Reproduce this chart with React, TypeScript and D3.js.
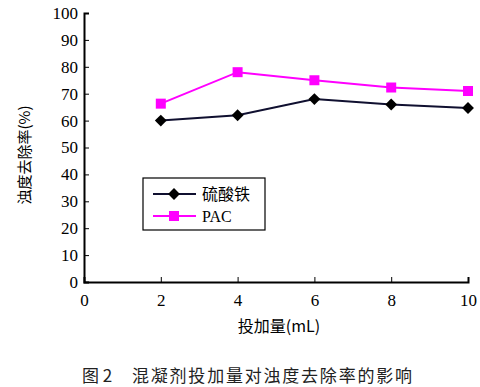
import { useEffect, useRef } from 'react';
import * as d3 from 'd3';

const doses = [2, 4, 6, 8, 10];
const ferric = [60, 62, 68, 66, 64.7];
const pac = [66.3, 78, 75, 72.3, 71];
const xTicks = [0, 2, 4, 6, 8, 10];
const yTicks = [0, 10, 20, 30, 40, 50, 60, 70, 80, 90, 100];
const seriesNames = ['硫酸铁', 'PAC'];

const App = () => {
  const svgRef = useRef<SVGSVGElement>(null);

  useEffect(() => {
    if (!svgRef.current) return;
    const svg = d3.select(svgRef.current);
    svg.selectAll('*').remove();

    const x = d3.scaleLinear().domain([0, 10]).range([84, 468]);
    const y = d3.scaleLinear().domain([0, 100]).range([282, 13]);
    const serif = '"Liberation Serif", "DejaVu Serif", serif';
    const cjk = '"Noto Sans CJK SC", sans-serif';

    // axes
    svg.append('g')
      .attr('transform', `translate(0,${y(0)})`)
      .call(d3.axisBottom(x).tickValues(xTicks).tickSize(-5).tickPadding(12).tickFormat(d3.format('d')))
      .call(g => g.select('.domain').attr('stroke-width', 2))
      .call(g => g.selectAll('text').style('font-family', serif).style('font-size', '17px').attr('fill', '#000'));

    svg.append('g')
      .attr('transform', `translate(${x(0)},0)`)
      .call(d3.axisLeft(y).tickValues(yTicks).tickSize(-5).tickPadding(6).tickFormat(d3.format('d')))
      .call(g => g.select('.domain').attr('stroke-width', 2))
      .call(g => g.selectAll('text').style('font-family', serif).style('font-size', '17px').attr('fill', '#000'));

    const line = d3.line<number>().x((_, i) => x(doses[i])).y(d => y(d));

    svg.append('path').datum(ferric).attr('d', line).attr('fill', 'none')
      .attr('stroke', '#101030').attr('stroke-width', 2);
    svg.append('path').datum(pac).attr('d', line).attr('fill', 'none')
      .attr('stroke', '#ff00ff').attr('stroke-width', 2);

    const diamond = d3.symbol().type(d3.symbolDiamond2).size(90);
    const square = d3.symbol().type(d3.symbolSquare).size(100);

    svg.selectAll('.fe').data(ferric).enter().append('path')
      .attr('d', diamond)
      .attr('transform', (d, i) => `translate(${x(doses[i])},${y(d)})`)
      .attr('fill', '#000');
    svg.selectAll('.pac').data(pac).enter().append('path')
      .attr('d', square)
      .attr('transform', (d, i) => `translate(${x(doses[i])},${y(d)})`)
      .attr('fill', '#ff00ff');

    // legend
    const lg = svg.append('g');
    lg.append('rect').attr('x', 143).attr('y', 178).attr('width', 122).attr('height', 52)
      .attr('fill', '#fff').attr('stroke', '#000').attr('stroke-width', 1.2);
    const lgColors = ['#101030', '#ff00ff'];
    const lgSymbols = [diamond, square];
    const lgSymbolColors = ['#000', '#ff00ff'];
    seriesNames.forEach((name, i) => {
      const cy = 194 + i * 22;
      lg.append('line').attr('x1', 153).attr('x2', 196).attr('y1', cy).attr('y2', cy)
        .attr('stroke', lgColors[i]).attr('stroke-width', 2);
      lg.append('path').attr('d', lgSymbols[i]).attr('transform', `translate(174,${cy})`)
        .attr('fill', lgSymbolColors[i]);
      lg.append('text').attr('x', 202).attr('y', cy + 6).text(name)
        .style('font-family', i === 0 ? cjk : serif).style('font-size', '16px').attr('fill', '#000');
    });

    // axis titles
    svg.append('text')
      .attr('transform', 'rotate(-90)')
      .attr('x', -155).attr('y', 30)
      .attr('text-anchor', 'middle')
      .style('font-family', cjk)
      .style('font-size', '15px')
      .attr('fill', '#000')
      .text('浊度去除率(%)');

    svg.append('text')
      .attr('x', 279).attr('y', 332)
      .attr('text-anchor', 'middle')
      .style('font-family', cjk)
      .style('font-size', '16px')
      .attr('fill', '#000')
      .text('投加量(mL)');

    svg.append('text')
      .attr('x', 82).attr('y', 382)
      .style('font-family', cjk)
      .style('font-size', '17px')
      .attr('fill', '#222')
      .text('图 2');
    svg.append('text')
      .attr('x', 132).attr('y', 382)
      .attr('textLength', 280)
      .attr('lengthAdjust', 'spacing')
      .style('font-family', cjk)
      .style('font-size', '17px')
      .attr('fill', '#222')
      .text('混凝剂投加量对浊度去除率的影响');
  }, []);

  return (
    <svg ref={svgRef} width={480} height={387}
      style={{ position: 'absolute', left: 0, top: 0, background: '#fff' }} />
  );
};

export default App;
